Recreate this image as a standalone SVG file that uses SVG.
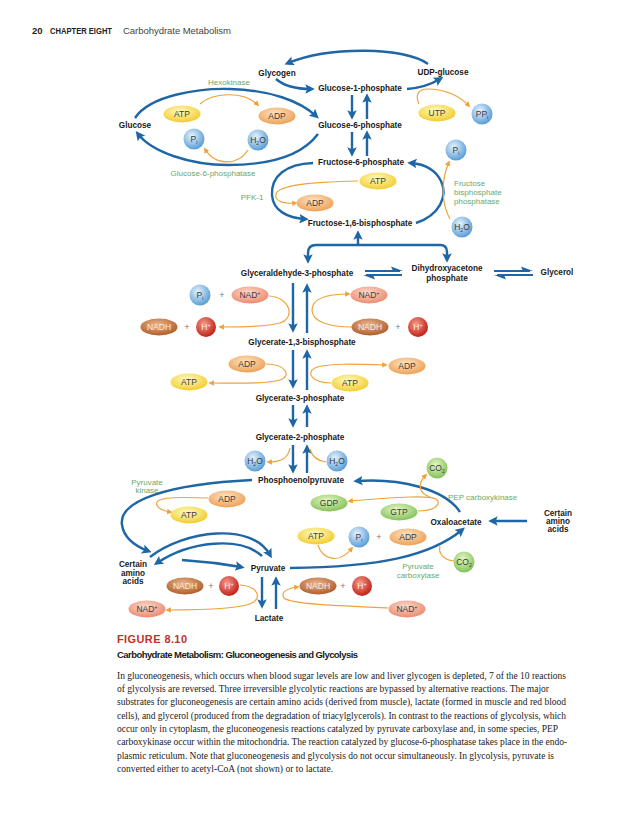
<svg xmlns="http://www.w3.org/2000/svg" width="638" height="828" viewBox="0 0 638 828">
<defs>
<style>
text{font-family:"Liberation Sans",Arial,sans-serif}
.n{font-size:8.2px;font-weight:bold;fill:#1a1a1a;text-anchor:middle}
.e{font-size:8px;fill:#6aa86a}
.em{font-size:8px;fill:#6aa86a;text-anchor:middle}
.l{font-size:8.5px;fill:#3a3a3a;text-anchor:middle}
.lw{font-size:8.5px;fill:#fbeee4;text-anchor:middle}
.pl{font-size:9px;fill:#777;text-anchor:middle}
.b{fill:none;stroke:#1f66a6;stroke-width:2.4;marker-end:url(#ab)}
.bn{fill:none;stroke:#1f66a6;stroke-width:2.4}
.h{fill:none;stroke:#1f66a6;stroke-width:1.8}
.hb{fill:#1f66a6}
.o{fill:none;stroke:#efa23c;stroke-width:1.2;marker-end:url(#ao)}
.on{fill:none;stroke:#efa23c;stroke-width:1.2}
.cap{font-family:"Liberation Serif","Times New Roman",serif;font-size:9.5px;fill:#222}
</style>
<marker id="ab" viewBox="0 0 10 10" refX="6" refY="5" markerWidth="9.5" markerHeight="9.5" markerUnits="userSpaceOnUse" orient="auto"><path d="M0,0 L10,5 L0,10 L2,5 z" fill="#1f66a6"/></marker>
<marker id="ao" viewBox="0 0 10 10" refX="7" refY="5" markerWidth="5.5" markerHeight="5.5" markerUnits="userSpaceOnUse" orient="auto"><path d="M0,0 L10,5 L0,10 z" fill="#efa23c"/></marker>
<radialGradient id="gY" cx="45%" cy="35%" r="65%"><stop offset="0" stop-color="#fffbc4"/><stop offset="1" stop-color="#f2cc2c"/></radialGradient>
<radialGradient id="gO" cx="45%" cy="35%" r="65%"><stop offset="0" stop-color="#fde3c4"/><stop offset="1" stop-color="#eea055"/></radialGradient>
<radialGradient id="gB" cx="40%" cy="35%" r="65%"><stop offset="0" stop-color="#e8f4fd"/><stop offset="1" stop-color="#5a9ed8"/></radialGradient>
<radialGradient id="gS" cx="45%" cy="35%" r="65%"><stop offset="0" stop-color="#fdd9cc"/><stop offset="1" stop-color="#ec8a6e"/></radialGradient>
<radialGradient id="gN" cx="45%" cy="35%" r="65%"><stop offset="0" stop-color="#eab58c"/><stop offset="1" stop-color="#b05c2a"/></radialGradient>
<radialGradient id="gR" cx="40%" cy="35%" r="65%"><stop offset="0" stop-color="#f89a8c"/><stop offset="1" stop-color="#c02218"/></radialGradient>
<radialGradient id="gG" cx="45%" cy="35%" r="65%"><stop offset="0" stop-color="#e6f7c8"/><stop offset="1" stop-color="#84c258"/></radialGradient>
</defs>
<rect width="638" height="828" fill="#fff"/>

<g id="header">
<text x="32" y="34" font-size="9.5" font-weight="bold" fill="#222">20</text>
<text x="50" y="34" font-size="9.5" font-weight="bold" fill="#222" textLength="62" lengthAdjust="spacingAndGlyphs">CHAPTER EIGHT</text>
<text x="123" y="34" font-size="9.5" fill="#444" textLength="108">Carbohydrate Metabolism</text>
</g>

<g id="connectors">
<path class="b" d="M428 64 C405 47 330 46 288 63"/>
<path class="b" d="M276 79 C284 86 296 89 311 89"/>
<path class="b" d="M407 89 C420 88 430 85 440 79"/>
<path class="b" d="M352 95 L352 116"/>
<path class="b" d="M367 119 L367 97"/>
<path class="b" d="M352 132 L352 153"/>
<path class="b" d="M367 156 L367 134"/>
<path class="b" d="M135 118 C150 95 200 88 230 89 C270 90 300 101 316 116"/>
<path class="b" d="M318 134 C300 158 265 165 228 165 C190 165 152 152 138 134"/>
<path class="b" d="M313 163 C286 164 271 176 272 195 C273 211 288 218 305 219"/>
<path class="b" d="M416 223 C440 215 448 196 441 181 C435 169 423 164 411 163"/>
<path class="b" d="M358 245 L358 234"/>
<path class="b" d="M378 245 L316 245 Q308 245 308 253 L308 260"/>
<path class="b" d="M378 245 L440 245 Q447 245 447 252 L447 259"/>
<path class="b" d="M293 283 L293 329"/>
<path class="b" d="M307 333 L307 287"/>
<path class="b" d="M293 350 L293 385"/>
<path class="b" d="M307 390 L307 353"/>
<path class="b" d="M293 405 L293 424"/>
<path class="b" d="M307 427 L307 408"/>
<path class="b" d="M293 445 L293 470"/>
<path class="b" d="M307 473 L307 448"/>
<path class="b" d="M252 480 C170 484 118 500 122 525 C124 538 135 546 148 551"/>
<path class="b" d="M150 557 C185 530 252 522 270 555"/>
<path class="b" d="M262 556 C240 536 190 541 157 563"/>
<path class="b" d="M182 560 Q212 562 241 567"/>
<path class="b" d="M290 568 C380 567 430 556 462 530"/>
<path class="b" d="M460 512 C445 489 400 478 357 481"/>
<path class="b" d="M527 521 L492 521"/>
<path class="b" d="M262 577 L262 605"/>
<path class="b" d="M276 609 L276 580"/>
<path class="h" d="M365 271 L400 271"/><path class="hb" d="M403 271 L391 266.5 L393 271 z"/>
<path class="h" d="M402 275 L366 275"/><path class="hb" d="M363 275 L375 279.5 L373 275 z"/>
<path class="h" d="M494 271 L530 271"/><path class="hb" d="M533 271 L521 266.5 L523 271 z"/>
<path class="h" d="M533 275 L497 275"/><path class="hb" d="M494 275 L506 279.5 L504 275 z"/>
<path class="o" d="M200 104 C212 93 243 90 258 105"/>
<path class="o" d="M248 150 C238 166 215 166 205 149"/>
<path class="o" d="M419 104 C415 95 418 89 428 89 C445 89 460 96 469 106"/>
<path class="o" d="M358 181 C310 182 278 185 276 194 C274 202 285 204 296 203"/>
<path class="o" d="M450 219 C441 203 441 180 449 162"/>
<path class="o" d="M269 296 C290 297 296 318 280 323 C265 327 240 327 220 327"/>
<path class="o" d="M352 327 C330 327 312 322 312 310 C312 297 330 294 349 294"/>
<path class="o" d="M266 364 C286 364 292 376 280 380 C265 384 240 383 210 383"/>
<path class="o" d="M331 383 C313 383 305 373 315 368 C325 363 355 364 386 365"/>
<path class="o" d="M290 448 C288 458 282 462 268 462"/>
<path class="on" d="M326 462 C318 461 312 456 310 449"/>
<path class="o" d="M208 498 C180 497 160 497 157 502 C155 507 162 511 171 512"/>
<path class="o" d="M418 511 C436 511 442 503 436 499 C428 495 400 497 349 501"/>
<path class="o" d="M430 497 C420 494 416 485 426 475"/>
<path class="o" d="M318 545 C322 558 338 566 352 548"/>
<path class="on" d="M454 561 C444 560 438 554 440 546"/>
<path class="o" d="M240 585 C258 586 262 598 252 603 C240 609 205 610 167 610"/>
<path class="o" d="M388 608 C340 606 290 604 284 598 C280 592 288 588 298 587"/>
</g>

<g id="metabolites">
<text class="n" x="277" y="76">Glycogen</text>
<text class="n" x="443" y="75">UDP-glucose</text>
<text class="n" x="360" y="91">Glucose-1-phosphate</text>
<text class="n" x="135" y="128">Glucose</text>
<text class="n" x="360" y="128">Glucose-6-phosphate</text>
<text class="n" x="361" y="165">Fructose-6-phosphate</text>
<text class="n" x="360" y="226">Fructose-1,6-bisphosphate</text>
<text class="n" x="297" y="276">Glyceraldehyde-3-phosphate</text>
<text class="n" x="447" y="271">Dihydroxyacetone</text>
<text class="n" x="447" y="281">phosphate</text>
<text class="n" x="557" y="275">Glycerol</text>
<text class="n" x="302" y="345">Glycerate-1,3-bisphosphate</text>
<text class="n" x="300" y="401">Glycerate-3-phosphate</text>
<text class="n" x="300" y="440">Glycerate-2-phosphate</text>
<text class="n" x="301" y="483">Phosphoenolpyruvate</text>
<text class="n" x="456" y="525">Oxaloacetate</text>
<text class="n" x="558" y="516">Certain</text>
<text class="n" x="558" y="524">amino</text>
<text class="n" x="558" y="532">acids</text>
<text class="n" x="133" y="567">Certain</text>
<text class="n" x="133" y="576">amino</text>
<text class="n" x="133" y="584">acids</text>
<text class="n" x="268" y="571">Pyruvate</text>
<text class="n" x="269" y="621">Lactate</text>
</g>

<g id="enzymes">
<text class="em" x="229" y="85">Hexokinase</text>
<text class="em" x="213" y="176">Glucose-6-phosphatase</text>
<text class="em" x="252" y="200">PFK-1</text>
<text class="e" x="454" y="186">Fructose</text>
<text class="e" x="454" y="195">bisphosphate</text>
<text class="e" x="454" y="204">phosphatase</text>
<text class="em" x="147" y="485">Pyruvate</text>
<text class="em" x="147" y="493">kinase</text>
<text class="e" x="448" y="500">PEP carboxykinase</text>
<text class="em" x="418" y="569">Pyruvate</text>
<text class="em" x="418" y="578">carboxylase</text>
</g>

<g id="cofactors">
<g id="atp1"><ellipse cx="182" cy="114" rx="18.5" ry="8.5" fill="url(#gY)"/><text class="l" x="182" y="117">ATP</text></g>
<g id="adp1"><ellipse cx="277" cy="116" rx="18.5" ry="8.5" fill="url(#gO)"/><text class="l" x="277" y="119">ADP</text></g>
<g id="pi1"><circle cx="194" cy="139" r="10.5" fill="url(#gB)"/><text class="l" x="194" y="142">P<tspan font-size="5" dy="2">i</tspan></text></g>
<g id="h2o1"><circle cx="258" cy="140" r="10.5" fill="url(#gB)"/><text class="l" x="258" y="143">H<tspan font-size="5" dy="2">2</tspan><tspan dy="-2">O</tspan></text></g>
<g id="utp"><ellipse cx="437" cy="113" rx="18.5" ry="8.5" fill="url(#gY)"/><text class="l" x="437" y="116">UTP</text></g>
<g id="ppi"><circle cx="482" cy="114" r="10.5" fill="url(#gB)"/><text class="l" x="482" y="117">PP<tspan font-size="5" dy="2">i</tspan></text></g>
<g id="pi2"><circle cx="456" cy="150" r="10.5" fill="url(#gB)"/><text class="l" x="456" y="153">P<tspan font-size="5" dy="2">i</tspan></text></g>
<g id="h2o2"><circle cx="462" cy="227" r="10.5" fill="url(#gB)"/><text class="l" x="462" y="230">H<tspan font-size="5" dy="2">2</tspan><tspan dy="-2">O</tspan></text></g>
<g id="atp2"><ellipse cx="378" cy="181" rx="18.5" ry="8.5" fill="url(#gY)"/><text class="l" x="378" y="184">ATP</text></g>
<g id="adp2"><ellipse cx="315" cy="203" rx="18.5" ry="8.5" fill="url(#gO)"/><text class="l" x="315" y="206">ADP</text></g>
<g id="pi3"><circle cx="200" cy="295" r="10.5" fill="url(#gB)"/><text class="l" x="200" y="298">P<tspan font-size="5" dy="2">i</tspan></text></g>
<text class="pl" x="222" y="298">+</text>
<g id="nad1"><ellipse cx="250" cy="295" rx="18.5" ry="8.5" fill="url(#gS)"/><text class="l" x="250" y="298">NAD<tspan font-size="5.5" dy="-3">+</tspan></text></g>
<g id="nadh1"><ellipse cx="159" cy="327" rx="18.5" ry="8.5" fill="url(#gN)"/><text class="lw" x="159" y="330">NADH</text></g>
<text class="pl" x="187" y="330">+</text>
<g id="h1"><circle cx="206" cy="327" r="10" fill="url(#gR)"/><text class="lw" x="206" y="330">H<tspan font-size="5.5" dy="-3">+</tspan></text></g>
<g id="nad2"><ellipse cx="369" cy="295" rx="18.5" ry="8.5" fill="url(#gS)"/><text class="l" x="369" y="298">NAD<tspan font-size="5.5" dy="-3">+</tspan></text></g>
<g id="nadh2"><ellipse cx="370" cy="327" rx="18.5" ry="8.5" fill="url(#gN)"/><text class="lw" x="370" y="330">NADH</text></g>
<text class="pl" x="398" y="330">+</text>
<g id="h2"><circle cx="418" cy="327" r="10" fill="url(#gR)"/><text class="lw" x="418" y="330">H<tspan font-size="5.5" dy="-3">+</tspan></text></g>
<g id="adp3"><ellipse cx="247" cy="364" rx="18.5" ry="8.5" fill="url(#gO)"/><text class="l" x="247" y="367">ADP</text></g>
<g id="atp3"><ellipse cx="189" cy="382" rx="18.5" ry="8.5" fill="url(#gY)"/><text class="l" x="189" y="385">ATP</text></g>
<g id="adp4"><ellipse cx="407" cy="366" rx="18.5" ry="8.5" fill="url(#gO)"/><text class="l" x="407" y="369">ADP</text></g>
<g id="atp4"><ellipse cx="350" cy="383" rx="18.5" ry="8.5" fill="url(#gY)"/><text class="l" x="350" y="386">ATP</text></g>
<g id="h2o3"><circle cx="255" cy="461" r="10.5" fill="url(#gB)"/><text class="l" x="255" y="464">H<tspan font-size="5" dy="2">2</tspan><tspan dy="-2">O</tspan></text></g>
<g id="h2o4"><circle cx="337" cy="461" r="10.5" fill="url(#gB)"/><text class="l" x="337" y="464">H<tspan font-size="5" dy="2">2</tspan><tspan dy="-2">O</tspan></text></g>
<g id="co2a"><circle cx="437" cy="468" r="10.5" fill="url(#gG)"/><text class="l" x="437" y="471">CO<tspan font-size="5" dy="2">2</tspan></text></g>
<g id="adp5"><ellipse cx="227" cy="499" rx="18.5" ry="8.5" fill="url(#gO)"/><text class="l" x="227" y="502">ADP</text></g>
<g id="atp5"><ellipse cx="189" cy="515" rx="18.5" ry="8.5" fill="url(#gY)"/><text class="l" x="189" y="518">ATP</text></g>
<g id="gdp"><ellipse cx="329" cy="503" rx="18.5" ry="8.5" fill="url(#gG)"/><text class="l" x="329" y="506">GDP</text></g>
<g id="gtp"><ellipse cx="399" cy="512" rx="18.5" ry="8.5" fill="url(#gG)"/><text class="l" x="399" y="515">GTP</text></g>
<g id="atp6"><ellipse cx="316" cy="536" rx="18.5" ry="8.5" fill="url(#gY)"/><text class="l" x="316" y="539">ATP</text></g>
<g id="pi4"><circle cx="359" cy="537" r="10.5" fill="url(#gB)"/><text class="l" x="359" y="540">P<tspan font-size="5" dy="2">i</tspan></text></g>
<text class="pl" x="379" y="540">+</text>
<g id="adp6"><ellipse cx="408" cy="537" rx="18.5" ry="8.5" fill="url(#gO)"/><text class="l" x="408" y="540">ADP</text></g>
<g id="co2b"><circle cx="464" cy="562" r="10.5" fill="url(#gG)"/><text class="l" x="464" y="565">CO<tspan font-size="5" dy="2">2</tspan></text></g>
<g id="nadh3"><ellipse cx="185" cy="586" rx="18.5" ry="8.5" fill="url(#gN)"/><text class="lw" x="185" y="589">NADH</text></g>
<text class="pl" x="211" y="589">+</text>
<g id="h3"><circle cx="229" cy="586" r="10" fill="url(#gR)"/><text class="lw" x="229" y="589">H<tspan font-size="5.5" dy="-3">+</tspan></text></g>
<g id="nadh4"><ellipse cx="318" cy="586" rx="18.5" ry="8.5" fill="url(#gN)"/><text class="lw" x="318" y="589">NADH</text></g>
<text class="pl" x="343" y="589">+</text>
<g id="h4"><circle cx="362" cy="586" r="10" fill="url(#gR)"/><text class="lw" x="362" y="589">H<tspan font-size="5.5" dy="-3">+</tspan></text></g>
<g id="nad3"><ellipse cx="147" cy="609" rx="18.5" ry="8.5" fill="url(#gS)"/><text class="l" x="147" y="612">NAD<tspan font-size="5.5" dy="-3">+</tspan></text></g>
<g id="nad4"><ellipse cx="407" cy="609" rx="18.5" ry="8.5" fill="url(#gS)"/><text class="l" x="407" y="612">NAD<tspan font-size="5.5" dy="-3">+</tspan></text></g>
</g>

<g id="caption">
<text x="117" y="643" font-size="11" font-weight="bold" fill="#c4302b" textLength="70">FIGURE 8.10</text>
<text x="117" y="658" font-family="Liberation Serif,Times New Roman,serif" font-size="9.5" font-weight="bold" fill="#1a1a1a" textLength="241">Carbohydrate Metabolism: Gluconeogenesis and Glycolysis</text>
<text class="cap" x="117" y="679" textLength="449">In gluconeogenesis, which occurs when blood sugar levels are low and liver glycogen is depleted, 7 of the 10 reactions</text>
<text class="cap" x="117" y="692" textLength="432">of glycolysis are reversed. Three irreversible glycolytic reactions are bypassed by alternative reactions. The major</text>
<text class="cap" x="117" y="705" textLength="449">substrates for gluconeogenesis are certain amino acids (derived from muscle), lactate (formed in muscle and red blood</text>
<text class="cap" x="117" y="719" textLength="449">cells), and glycerol (produced from the degradation of triacylglycerols). In contrast to the reactions of glycolysis, which</text>
<text class="cap" x="117" y="732" textLength="441">occur only in cytoplasm, the gluconeogenesis reactions catalyzed by pyruvate carboxylase and, in some species, PEP</text>
<text class="cap" x="117" y="745" textLength="450">carboxykinase occur within the mitochondria. The reaction catalyzed by glucose-6-phosphatase takes place in the endo-</text>
<text class="cap" x="117" y="759" textLength="437">plasmic reticulum. Note that gluconeogenesis and glycolysis do not occur simultaneously. In glycolysis, pyruvate is</text>
<text class="cap" x="117" y="772" textLength="216">converted either to acetyl-CoA (not shown) or to lactate.</text>
</g>
</svg>
